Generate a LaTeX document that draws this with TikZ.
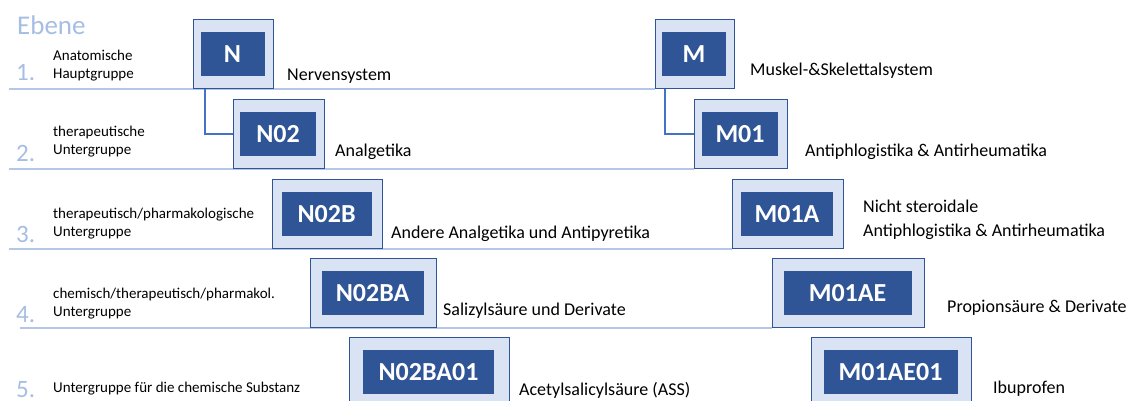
\documentclass[tikz,border=0pt]{standalone}
\usepackage{fontspec}
\setmainfont{Carlito}
\usetikzlibrary{backgrounds}
\definecolor{atcdark}{RGB}{47,85,151}
\definecolor{atcfill}{RGB}{218,227,243}
\definecolor{atcline}{RGB}{180,199,231}
\definecolor{atcnum}{RGB}{166,189,228}
\definecolor{atclink}{RGB}{68,114,196}

% outer frame + dark code box: name, x, y (top left), outer width, inner width, code
\newcommand{\atcbox}[6]{%
  \node[outerbox, minimum width=#4pt] (#1) at (#2,#3) {};
  \node[codebox, minimum width=#5pt, xshift=-1pt] (#1c) at (#1.center) {#6};}

\begin{document}
\begin{tikzpicture}[x=1pt, y=-1pt]
        \tikzset{
            outerbox/.style={draw=atcdark, fill=atcfill, line width=1.1pt,
                inner sep=0pt, minimum height=69pt, anchor=north west},
            codebox/.style={fill=atcdark, text=white, inner sep=0pt,
                minimum height=44pt, font=\fontsize{26}{26}\selectfont\bfseries},
            desc/.style={anchor=base west, inner sep=0pt,
                font=\fontsize{18}{24}\selectfont},
            lvltext/.style={anchor=base west, inner sep=0pt, align=left,
                font=\fontsize{15}{18}\selectfont},
            lvlnum/.style={anchor=base west, inner sep=0pt, text=atcnum,
                font=\fontsize{25}{25}\selectfont},
            lvlline/.style={draw=atcline, line width=1.5pt},
            link/.style={draw=atclink, line width=1.2pt}
        }
        \useasboundingbox (0,0) rectangle (1130,401);

        % -- left column: heading, level numbers and level names --
        \node[lvlnum, font=\fontsize{27}{27}\selectfont] (ebene) at (17,35) {Ebene};
        \foreach \i/\yy in {1/80.5, 2/162, 3/242.5, 4/322, 5/397}
            \node[lvlnum] (num\i) at (16,\yy) {\i.};
        % (base = last line of the two)
        \node[lvltext] (lvl1) at (53,78.3) {Anatomische\\Hauptgruppe};
        \node[lvltext] (lvl2) at (53,155) {therapeutische\\Untergruppe};
        \node[lvltext] (lvl3) at (53,236.7) {therapeutisch/pharmakologische\\Untergruppe};
        \node[lvltext] (lvl4) at (53,316.7) {chemisch/therapeutisch/pharmakol.\\Untergruppe};
        \node[lvltext] (lvl5) at (53,392.7) {Untergruppe f\"ur die chemische Substanz};

        % -- N branch --
        \atcbox{n1}{193}{19}{80}{64}{N}
        \atcbox{n2}{233}{99}{91}{76}{N02}
        \atcbox{n3}{272}{179}{110}{90}{N02B}
        \atcbox{n4}{310}{258}{126}{102}{N02BA}
        \atcbox{n5}{349}{337}{160}{131}{N02BA01}

        % -- M branch --
        \atcbox{m1}{655}{19}{79}{64}{M}
        \atcbox{m2}{694}{99}{93}{76}{M01}
        \atcbox{m3}{732}{179}{111}{92}{M01A}
        \atcbox{m4}{772}{258}{152}{128}{M01AE}
        \atcbox{m5}{811}{337}{160}{134}{M01AE01}

        % -- level separators, behind the boxes --
        \begin{scope}[on background layer]
            \foreach \i/\xs in {1/9, 2/9, 3/9, 4/20}
                \draw[lvlline] (\xs,0 |- m\i.south west) -- (m\i.south west);
        \end{scope}

        % -- level 1 -> level 2 links --
        \draw[link] ([xshift=12pt]n1.south west) |- (n2.west);
        \draw[link] ([xshift=10pt]m1.south west) |- (m2.west);

        % -- names of the groups --
        \node[desc] (dn1) at (287,81) {Nervensystem};
        \node[desc] (dn2) at (335,157) {Analgetika};
        \node[desc] (dn3) at (391,238) {Andere Analgetika und Antipyretika};
        \node[desc] (dn4) at (443,315) {Salizyls\"aure und Derivate};
        \node[desc] (dn5) at (519,395) {Acetylsalicyls\"aure (ASS)};
        \node[desc] (dm1) at (750,76) {Muskel-\&Skelettalsystem};
        \node[desc] (dm2) at (805,157) {Antiphlogistika \& Antirheumatika};
        \node[desc, anchor=west, align=left] (dm3) at (863,219.5)
            {Nicht steroidale\\Antiphlogistika \& Antirheumatika};
        \node[desc] (dm4) at (947,312) {Propions\"aure \& Derivate};
        \node[desc] (dm5) at (993,393) {Ibuprofen};

\end{tikzpicture}
\end{document}
